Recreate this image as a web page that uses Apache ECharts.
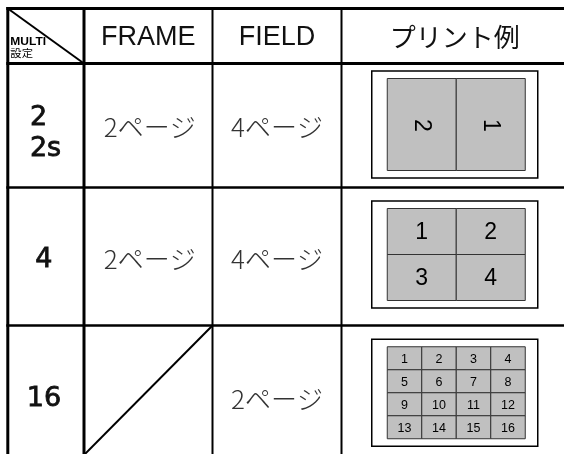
<!DOCTYPE html>
<html><head><meta charset="utf-8">
<script src="https://cdn.jsdelivr.net/npm/echarts@6/dist/echarts.min.js"></script>
<style>html,body{margin:0;padding:0;background:#fff}#c{width:564px;height:454px}</style>
</head><body><div id="c"></div>
<script>
// ---- data ----
const cornerLabels = ['MULTI', '設定'];
const columnHeaders = ['FRAME', 'FIELD', 'プリント例'];
const multiSettings = ['2\n2s', '4', '16'];
const frameValues = ['2ページ', '2ページ', null];
const fieldValues = ['4ページ', '4ページ', '2ページ'];
const printColumns = [2, 2, 4];
const printRows = [1, 2, 4];
const printPages = [
  [2, 1],
  [1, 2, 3, 4],
  [1, 2, 3, 4, 5, 6, 7, 8, 9, 10, 11, 12, 13, 14, 15, 16]
];
const printRotated = [true, false, false];

// ---- layout (axis units) ----
const colEdges = [7.8, 84, 212.5, 341.5, 566];
const rowEdges = [8.5, 63.5, 187.5, 325.5, 455];
const rowTextShift = [2, 3, 9];
const rowPicShift = [-1, -2, 2.5];
const picW = 166, picH = 107, picInX = 15.5, picInY = 7.5, picInW = 138, picInH = 92;
const picNumSize = [23, 23, 12.5];

const LATIN = '"Liberation Sans", Arial, sans-serif';
const ROUND = '"DejaVu Sans", sans-serif';
const CJK = '"Noto Sans CJK JP", sans-serif';

const chart = echarts.init(document.getElementById('c'), null, {renderer: 'canvas'});

function txt(api, x, y, text, font, color, align, extra, styleExtra) {
  const p = api.coord([x, y]);
  return Object.assign({
    type: 'text', x: p[0], y: p[1],
    style: Object.assign({text: text, x: 0, y: 0, font: font, fill: color || '#000',
            align: align || 'center', verticalAlign: 'middle'}, styleExtra || {})
  }, extra || {});
}
function seg(api, x1, y1, x2, y2, w) {
  const a = api.coord([x1, y1]), b = api.coord([x2, y2]);
  return {type: 'line', shape: {x1: a[0], y1: a[1], x2: b[0], y2: b[1]},
          style: {stroke: '#000', lineWidth: w}};
}
function box(api, x, y, w, h, fill, stroke, lw) {
  const a = api.coord([x, y]), b = api.coord([x + w, y + h]);
  return {type: 'rect', shape: {x: a[0], y: a[1], width: b[0] - a[0], height: b[1] - a[1]},
          style: {fill: fill, stroke: stroke, lineWidth: lw}};
}

// table frame
function renderFrame(params, api) {
  const ch = [];
  const hW = [3, 3, 2.5, 2.5];
  for (let i = 0; i < 4; i++) ch.push(seg(api, colEdges[0] - 1.5, rowEdges[i], colEdges[4], rowEdges[i], hW[i]));
  const vW = [3, 3, 2, 2];
  for (let j = 0; j < 4; j++) ch.push(seg(api, colEdges[j], rowEdges[0] - 1.5, colEdges[j], rowEdges[4], vW[j]));
  ch.push(seg(api, colEdges[0], rowEdges[0], colEdges[1], rowEdges[1], 2));
  frameValues.forEach(function (v, r) {
    if (v == null) ch.push(seg(api, colEdges[2], rowEdges[r + 1], colEdges[1], rowEdges[r + 2], 2));
  });
  return {type: 'group', children: ch};
}

// header texts
function renderHeader(params, api) {
  const ch = [];
  const cy = (rowEdges[0] + rowEdges[1]) / 2 + 1.5;
  columnHeaders.forEach(function (h, j) {
    const cx = (colEdges[j + 1] + colEdges[j + 2]) / 2 + (j === 2 ? 1 : 0);
    const font = j === 2 ? '26px ' + CJK : '27px ' + LATIN;
    ch.push(txt(api, cx, cy, h, font, '#111'));
  });
  ch.push(txt(api, colEdges[0] + 2.5, rowEdges[1] - 21, cornerLabels[0], 'bold 10px ' + LATIN, '#000', 'left', {scaleX: 1.2}));
  ch.push(txt(api, colEdges[0] + 2.5, rowEdges[1] - 10, cornerLabels[1], '10.5px ' + CJK, '#000', 'left', {scaleX: 1.08}));
  return {type: 'group', children: ch};
}

// body rows
function renderRow(params, api) {
  const r = api.value(0);
  const top = rowEdges[r + 1], bot = rowEdges[r + 2];
  const cy = (top + bot) / 2 + rowTextShift[r];
  const ch = [];
  const lab = multiSettings[r];
  const cx0 = (colEdges[0] + colEdges[1]) / 2;
  const labFont = '27px ' + ROUND;
  const labStroke = {stroke: '#111', lineWidth: 0.8};
  if (lab.indexOf('\n') >= 0) {
    const parts = lab.split('\n');
    ch.push(txt(api, cx0 - 16, cy - 10, parts[0], labFont, '#111', 'left', null, labStroke));
    ch.push(txt(api, cx0 - 16, cy + 21, parts[1], labFont, '#111', 'left', null, labStroke));
  } else {
    ch.push(txt(api, cx0 - 2, cy, lab, labFont, '#111', 'center', null, labStroke));
  }
  if (frameValues[r]) ch.push(txt(api, (colEdges[1] + colEdges[2]) / 2 + 1.5, cy, frameValues[r], '300 26px ' + CJK, '#333'));
  if (fieldValues[r]) ch.push(txt(api, (colEdges[2] + colEdges[3]) / 2, cy, fieldValues[r], '300 26px ' + CJK, '#333'));

  // print example
  const pcx = (colEdges[3] + colEdges[4]) / 2 + 1;
  const pcy = (top + bot) / 2 + rowPicShift[r];
  const ox = pcx - picW / 2, oy = pcy - picH / 2;
  ch.push(box(api, ox, oy, picW, picH, '#fff', '#000', 1.5));
  const nc = printColumns[r], nr = printRows[r];
  const cw = picInW / nc, chh = picInH / nr;
  printPages[r].forEach(function (pg, k) {
    const c = k % nc, rr = Math.floor(k / nc);
    const x = ox + picInX + c * cw, y = oy + picInY + rr * chh;
    ch.push(box(api, x, y, cw, chh, '#c0c0c0', '#333', 1));
    const extra = printRotated[r] ? {rotation: -Math.PI / 2} : {};
    ch.push(txt(api, x + cw / 2, y + chh / 2 + 1, String(pg), picNumSize[r] + 'px ' + LATIN, '#000', 'center', extra));
  });
  return {type: 'group', children: ch};
}

chart.setOption({
  animation: false,
  backgroundColor: '#fff',
  grid: {left: 0, right: 0, top: 0, bottom: 0},
  xAxis: {type: 'value', min: 0, max: 564, show: false},
  yAxis: {type: 'value', min: 0, max: 454, inverse: true, show: false},
  series: [
    {type: 'custom', name: 'rows', renderItem: renderRow, data: multiSettings.map(function (_, i) { return [i]; }), silent: true},
    {type: 'custom', name: 'header', renderItem: renderHeader, data: [[0]], silent: true},
    {type: 'custom', name: 'frame', renderItem: renderFrame, data: [[0]], silent: true, z: 5}
  ]
});
</script>
</body></html>
